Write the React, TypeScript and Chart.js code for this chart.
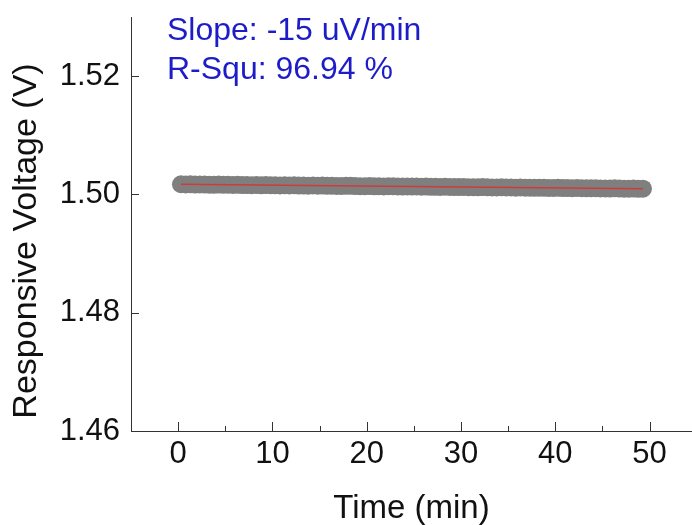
import React, { useEffect, useRef } from 'react';
import { Chart, registerables } from 'chart.js';

Chart.register(...registerables);

// Measured response voltage over time (min, V)
const times = [
  0.3, 0.8, 1.3, 1.8, 2.3, 2.8, 3.3, 3.8, 4.3, 4.8,
  5.3, 5.8, 6.3, 6.8, 7.3, 7.8, 8.3, 8.8, 9.3, 9.8,
  10.3, 10.8, 11.3, 11.8, 12.3, 12.8, 13.3, 13.8, 14.3, 14.8,
  15.3, 15.8, 16.3, 16.8, 17.3, 17.8, 18.3, 18.8, 19.3, 19.8,
  20.3, 20.8, 21.3, 21.8, 22.3, 22.8, 23.3, 23.8, 24.3, 24.8,
  25.3, 25.8, 26.3, 26.8, 27.3, 27.8, 28.3, 28.8, 29.3, 29.8,
  30.3, 30.8, 31.3, 31.8, 32.3, 32.8, 33.3, 33.8, 34.3, 34.8,
  35.3, 35.8, 36.3, 36.8, 37.3, 37.8, 38.3, 38.8, 39.3, 39.8,
  40.3, 40.8, 41.3, 41.8, 42.3, 42.8, 43.3, 43.8, 44.3, 44.8,
  45.3, 45.8, 46.3, 46.8, 47.3, 47.8, 48.3, 48.8, 49.3,
];

const voltages = [
  1.50172, 1.50168, 1.50171, 1.50166, 1.50169, 1.50167, 1.50164, 1.50163, 1.50166, 1.50162,
  1.50164, 1.50160, 1.50163, 1.50159, 1.50158, 1.50157, 1.50160, 1.50155, 1.50158, 1.50156,
  1.50154, 1.50153, 1.50155, 1.50151, 1.50154, 1.50150, 1.50149, 1.50148, 1.50151, 1.50147,
  1.50149, 1.50145, 1.50148, 1.50144, 1.50143, 1.50145, 1.50145, 1.50141, 1.50139, 1.50140,
  1.50142, 1.50138, 1.50140, 1.50136, 1.50139, 1.50137, 1.50135, 1.50133, 1.50136, 1.50132,
  1.50134, 1.50130, 1.50133, 1.50129, 1.50128, 1.50127, 1.50130, 1.50126, 1.50125, 1.50124,
  1.50127, 1.50123, 1.50122, 1.50121, 1.50124, 1.50120, 1.50119, 1.50118, 1.50121, 1.50117,
  1.50119, 1.50115, 1.50118, 1.50114, 1.50113, 1.50112, 1.50115, 1.50111, 1.50110, 1.50109,
  1.50112, 1.50108, 1.50107, 1.50106, 1.50109, 1.50105, 1.50104, 1.50103, 1.50106, 1.50102,
  1.50101, 1.50100, 1.50103, 1.50099, 1.50098, 1.50098, 1.50099, 1.50095, 1.50097,
];

// Linear fit endpoints
const fitTimes = [0.3, 49.3];
const fitVoltages = [1.5017, 1.50096];

const xTickValues = [0, 10, 20, 30, 40, 50];
const xMinorTickValues = [5, 15, 25, 35, 45];
const yTickValues = [1.46, 1.48, 1.5, 1.52];

const fitLabels = ['Slope: -15 uV/min', 'R-Squ: 96.94 %'];
const xTitle = 'Time (min)';
const yTitle = 'Responsive Voltage (V)';

const FONT = '"Liberation Sans", Arial, sans-serif';
const AXIS_COLOR = '#333333';

const clearPadding = (s: any) => {
  s.paddingTop = 0;
  s.paddingBottom = 0;
  s.paddingLeft = 0;
  s.paddingRight = 0;
};

const decorPlugin = {
  id: 'decor',
  afterDraw(chart: any) {
    const { ctx, chartArea, scales } = chart;
    const xs = scales.x;
    const ys = scales.y;
    ctx.save();
    // inward tick marks
    ctx.strokeStyle = AXIS_COLOR;
    ctx.lineWidth = 1;
    ctx.beginPath();
    xTickValues.forEach((v) => {
      const px = Math.round(xs.getPixelForValue(v)) + 0.5;
      ctx.moveTo(px, chartArea.bottom);
      ctx.lineTo(px, chartArea.bottom - 9);
    });
    xMinorTickValues.forEach((v) => {
      const px = Math.round(xs.getPixelForValue(v)) + 0.5;
      ctx.moveTo(px, chartArea.bottom);
      ctx.lineTo(px, chartArea.bottom - 5);
    });
    yTickValues.forEach((v) => {
      const py = Math.round(ys.getPixelForValue(v)) + 0.5;
      ctx.moveTo(chartArea.left, py);
      ctx.lineTo(chartArea.left + 8, py);
    });
    ctx.stroke();

    // y axis title
    ctx.fillStyle = '#111111';
    ctx.font = `34px ${FONT}`;
    ctx.textAlign = 'center';
    ctx.textBaseline = 'middle';
    ctx.translate(27, 241);
    ctx.rotate(-Math.PI / 2);
    ctx.fillText(yTitle, 0, 0);
    ctx.setTransform(1, 0, 0, 1, 0, 0);

    // fit statistics
    ctx.fillStyle = '#1c1cc8';
    ctx.font = `32px ${FONT}`;
    ctx.textAlign = 'left';
    ctx.textBaseline = 'alphabetic';
    fitLabels.forEach((t, i) => ctx.fillText(t, 167, 40 + i * 39));
    ctx.restore();
  },
};

export default function App() {
  const ref = useRef<HTMLCanvasElement>(null);

  useEffect(() => {
    if (!ref.current) return;
    const chart = new Chart(ref.current, {
      type: 'scatter',
      data: {
        datasets: [
          {
            type: 'line',
            label: 'fit',
            data: fitTimes.map((t, i) => ({ x: t, y: fitVoltages[i] })),
            borderColor: '#d03a3a',
            borderWidth: 1.5,
            pointRadius: 0,
            showLine: true,
            fill: false,
            order: 0,
          },
          {
            label: 'voltage',
            data: times.map((t, i) => ({ x: t, y: voltages[i] })),
            backgroundColor: '#7f7f7f',
            borderWidth: 0,
            pointRadius: 9,
            order: 1,
          },
        ],
      } as any,
      options: {
        animation: false,
        responsive: false,
        layout: { autoPadding: false, padding: { top: 17, right: 0, left: 0, bottom: 0 } },
        plugins: {
          legend: { display: false },
          tooltip: { enabled: false },
        },
        scales: {
          x: {
            type: 'linear',
            min: -5,
            max: 54.5,
            afterBuildTicks: (s: any) => {
              s.ticks = xTickValues.map((v) => ({ value: v }));
            },
            afterFit: (s: any) => {
              s.height = 94;
              clearPadding(s);
            },
            grid: { display: false, drawTicks: false, tickLength: 0 },
            border: { display: true, color: AXIS_COLOR, width: 1 },
            ticks: {
              padding: 5,
              color: '#111111',
              font: { family: FONT, size: 31 },
              maxRotation: 0,
              callback: (v: any) => String(v),
            },
            title: {
              display: true,
              text: xTitle,
              color: '#111111',
              font: { family: FONT, size: 33 },
              padding: { top: 0, bottom: -4 },
            },
          },
          y: {
            type: 'linear',
            min: 1.46,
            max: 1.53,
            afterBuildTicks: (s: any) => {
              s.ticks = yTickValues.map((v) => ({ value: v }));
            },
            afterFit: (s: any) => {
              s.width = 131;
              clearPadding(s);
            },
            grid: { display: false, drawTicks: false, tickLength: 0 },
            border: { display: true, color: AXIS_COLOR, width: 1 },
            ticks: {
              padding: 11,
              color: '#111111',
              font: { family: FONT, size: 31 },
              callback: (v: any) => Number(v).toFixed(2),
            },
          },
        },
      } as any,
      plugins: [decorPlugin],
    });
    return () => chart.destroy();
  }, []);

  return (
    <div style={{ position: 'absolute', left: 0, top: 0, width: 692, height: 525, background: '#ffffff' }}>
      <canvas ref={ref} width={692} height={525} />
    </div>
  );
}
